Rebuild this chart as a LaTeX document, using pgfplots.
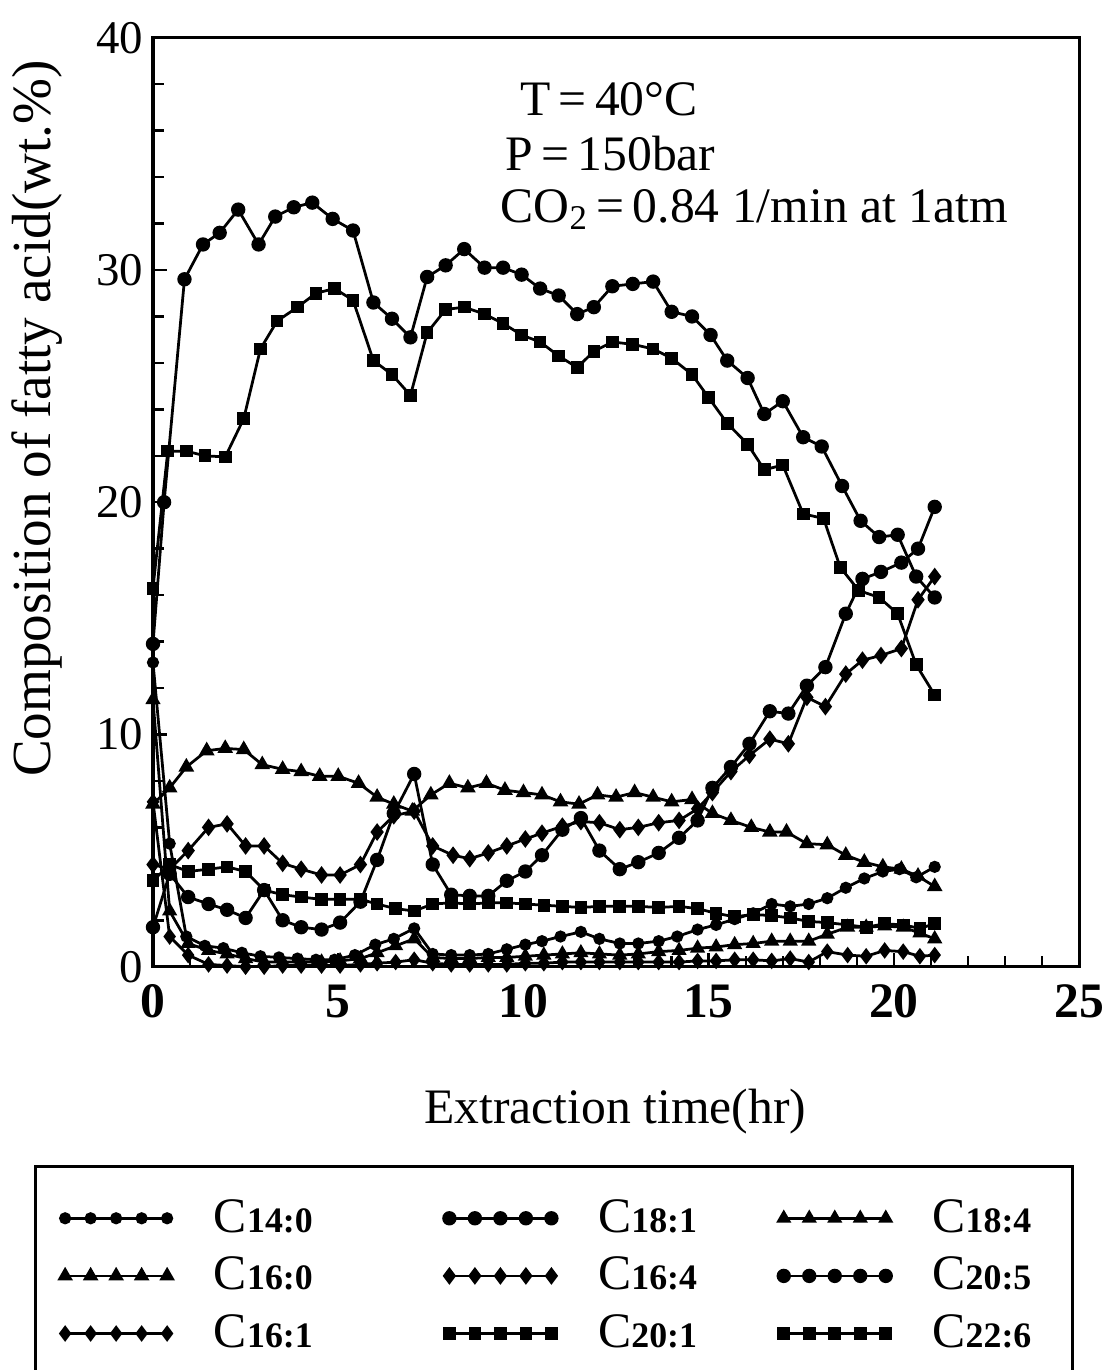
\documentclass[border=0pt]{standalone}
\usepackage{fontspec}
\setmainfont{Liberation Serif}
\usepackage{pgfplots}
\pgfplotsset{compat=1.18}
\newcommand{\lgt}[2]{\makebox[#1][l]{C{\fontsize{13}{13}\selectfont\bfseries #2}}}
\begin{document}
\begin{tikzpicture}
\begin{axis}[
  scale only axis, width=336pt, height=337pt,
  xmin=0, xmax=25, ymin=0, ymax=40,
  xtick={0,5,...,25}, ytick={0,10,...,40},
  minor x tick num=4, minor y tick num=4,
  tick align=inside, xtick pos=bottom, ytick pos=left,
  major tick length=5pt, minor tick length=4pt,
  axis line style={line width=1.1pt},
  every tick/.style={black, line width=0.9pt},
  /pgf/number format/assume math mode=true,
  xticklabel style={font=\fontsize{18}{18}\selectfont\bfseries, yshift=-3pt},
  yticklabel style={font=\fontsize{17}{17}\selectfont},
  xlabel={Extraction time(hr)},
  ylabel={Composition of fatty acid(wt.\%)},
  xlabel style={font=\fontsize{18}{18}\selectfont, at={(axis description cs:0.499,-0.156)}, anchor=center},
  ylabel style={font=\fontsize{20}{20}\selectfont, at={(axis description cs:-0.1253,0.59)}, anchor=center},
  legend columns=3,
  legend cell align=left,
  legend style={at={(axis description cs:0.433,-0.2134)}, anchor=north, draw=black, line width=1.1pt,
    font=\fontsize{18}{18}\selectfont, inner xsep=8.9pt, inner ysep=11.8pt, row sep=6.9pt, column sep=0pt,
    nodes={inner xsep=6pt, inner ysep=0pt, text height=12pt, text depth=2pt}},
  legend image code/.code={\draw[#1, line width=1pt] plot coordinates {(0pt,0pt)(9.25pt,0pt)(18.5pt,0pt)(27.75pt,0pt)(37pt,0pt)}; \path (47.5pt,0pt);},
  every axis plot/.append style={black, line width=1pt, mark options={solid, fill=black}},
]
% D  C14:0
\addplot[mark=*, mark size=1.7pt] coordinates {(0,13.1)(0.45,5.3)(0.9,1.3)(1.4,0.9)(1.9,0.8)(2.4,0.6)(2.9,0.45)(3.4,0.4)(3.9,0.35)(4.4,0.3)(4.9,0.3)(5.45,0.5)(6.0,0.95)(6.5,1.2)(7.05,1.65)(7.55,0.55)(8.05,0.5)(8.55,0.5)(9.05,0.55)(9.55,0.75)(10.05,0.95)(10.5,1.1)(11.0,1.3)(11.55,1.5)(12.05,1.2)(12.6,1.0)(13.1,1.0)(13.65,1.1)(14.15,1.3)(14.7,1.6)(15.2,1.8)(15.7,2.05)(16.2,2.3)(16.7,2.7)(17.2,2.6)(17.7,2.7)(18.2,2.95)(18.7,3.4)(19.2,3.8)(19.7,4.1)(20.15,4.2)(20.6,3.85)(21.1,4.3)};
\addlegendentry{\lgt{77.3pt}{14:0}}
% A  C18:1
\addplot[mark=*, mark size=2.1pt] coordinates {(0,13.9)(0.3,20.0)(0.85,29.6)(1.35,31.1)(1.8,31.6)(2.3,32.6)(2.85,31.1)(3.3,32.3)(3.8,32.7)(4.3,32.9)(4.85,32.2)(5.4,31.7)(5.95,28.6)(6.45,27.9)(6.95,27.1)(7.4,29.7)(7.9,30.2)(8.4,30.9)(8.95,30.1)(9.45,30.1)(9.95,29.8)(10.45,29.2)(10.95,28.9)(11.45,28.1)(11.9,28.4)(12.4,29.3)(12.95,29.4)(13.5,29.5)(14.0,28.2)(14.55,28.0)(15.05,27.2)(15.5,26.1)(16.05,25.35)(16.5,23.8)(17.0,24.35)(17.55,22.8)(18.05,22.4)(18.6,20.7)(19.1,19.2)(19.6,18.5)(20.1,18.6)(20.6,16.8)(21.1,15.9)};
\addlegendentry{\lgt{59.2pt}{18:1}}
% F  C18:4
\addplot[mark=triangle*, mark size=2.2pt] coordinates {(0,11.5)(0.45,2.4)(0.95,1.0)(1.5,0.7)(2.0,0.55)(2.5,0.35)(3.0,0.2)(3.5,0.2)(4.0,0.2)(4.55,0.2)(5.05,0.25)(5.6,0.35)(6.05,0.6)(6.55,0.9)(7.05,1.2)(7.55,0.4)(8.05,0.35)(8.55,0.35)(9.05,0.4)(9.55,0.4)(10.05,0.45)(10.55,0.5)(11.05,0.55)(11.55,0.6)(12.05,0.55)(12.6,0.5)(13.1,0.55)(13.65,0.65)(14.2,0.7)(14.7,0.8)(15.2,0.85)(15.7,0.95)(16.2,1.0)(16.7,1.1)(17.2,1.1)(17.7,1.1)(18.2,1.4)(18.75,1.7)(19.25,1.7)(19.75,1.75)(20.25,1.7)(20.7,1.45)(21.1,1.2)};
\addlegendentry{\lgt{36pt}{18:4}}
% C  C16:0
\addplot[mark=triangle*, mark size=2.3pt] coordinates {(0,7.0)(0.45,7.7)(0.9,8.6)(1.45,9.3)(1.95,9.4)(2.45,9.35)(2.95,8.7)(3.5,8.5)(4.0,8.4)(4.5,8.2)(5.0,8.2)(5.55,7.9)(6.05,7.3)(6.5,7.0)(7.0,6.7)(7.5,7.4)(8.0,7.9)(8.5,7.7)(9.0,7.9)(9.5,7.6)(10.0,7.5)(10.5,7.4)(11.0,7.1)(11.5,7.0)(12.0,7.4)(12.5,7.3)(13.0,7.5)(13.5,7.3)(14.0,7.1)(14.55,7.2)(15.1,6.6)(15.6,6.3)(16.15,6.0)(16.65,5.8)(17.1,5.8)(17.65,5.3)(18.2,5.25)(18.7,4.8)(19.2,4.5)(19.7,4.3)(20.2,4.2)(20.65,3.9)(21.1,3.45)};
\addlegendentry{\lgt{77.3pt}{16:0}}
% P  C16:4
\addplot[mark=diamond*, mark size=2.4pt] coordinates {(0,4.4)(0.45,4.2)(0.95,5.0)(1.5,6.0)(2.0,6.15)(2.5,5.2)(3.0,5.2)(3.5,4.45)(4.0,4.2)(4.55,3.95)(5.05,3.95)(5.6,4.4)(6.05,5.8)(6.5,6.5)(7.05,6.7)(7.55,5.2)(8.1,4.8)(8.55,4.65)(9.05,4.9)(9.55,5.2)(10.05,5.5)(10.5,5.75)(11.05,6.05)(11.55,6.25)(12.05,6.2)(12.6,5.9)(13.1,6.0)(13.65,6.2)(14.2,6.3)(14.7,6.8)(15.1,7.5)(15.6,8.4)(16.1,9.1)(16.65,9.8)(17.15,9.6)(17.65,11.6)(18.15,11.2)(18.7,12.6)(19.15,13.2)(19.65,13.4)(20.2,13.7)(20.65,15.8)(21.1,16.8)};
\addlegendentry{\lgt{59.2pt}{16:4}}
% Q  C20:5
\addplot[mark=*, mark size=2.1pt] coordinates {(0,1.7)(0.45,4.0)(0.95,3.0)(1.5,2.7)(2.0,2.45)(2.5,2.1)(3.0,3.3)(3.5,2.0)(4.0,1.7)(4.55,1.6)(5.05,1.9)(5.6,2.8)(6.05,4.6)(6.5,6.6)(7.05,8.3)(7.55,4.4)(8.05,3.1)(8.55,3.05)(9.05,3.05)(9.55,3.7)(10.05,4.1)(10.5,4.8)(11.05,5.9)(11.55,6.4)(12.05,5.0)(12.6,4.2)(13.1,4.5)(13.65,4.9)(14.2,5.55)(14.7,6.3)(15.1,7.7)(15.6,8.6)(16.1,9.6)(16.65,11.0)(17.15,10.9)(17.65,12.1)(18.15,12.9)(18.7,15.2)(19.15,16.7)(19.65,17.0)(20.2,17.4)(20.65,18.0)(21.1,19.8)};
\addlegendentry{\lgt{36pt}{20:5}}
% G  C16:1
\addplot[mark=diamond*, mark size=2.2pt] coordinates {(0,7.1)(0.45,1.3)(0.95,0.5)(1.5,0.1)(2.0,0.05)(2.5,0.0)(3.0,0.0)(3.5,0.05)(4.0,0.05)(4.55,0.05)(5.05,0.05)(5.6,0.1)(6.05,0.15)(6.55,0.2)(7.05,0.3)(7.55,0.15)(8.05,0.1)(8.55,0.1)(9.05,0.1)(9.55,0.1)(10.05,0.15)(10.55,0.15)(11.05,0.2)(11.55,0.2)(12.05,0.2)(12.6,0.2)(13.1,0.2)(13.65,0.2)(14.2,0.2)(14.7,0.25)(15.2,0.25)(15.7,0.3)(16.2,0.3)(16.7,0.25)(17.2,0.35)(17.7,0.2)(18.2,0.65)(18.75,0.5)(19.25,0.45)(19.75,0.7)(20.25,0.65)(20.7,0.45)(21.1,0.5)};
\addlegendentry{\lgt{77.3pt}{16:1}}
% B  C20:1
\addplot[mark=square*, mark size=1.8pt] coordinates {(0,16.3)(0.4,22.2)(0.9,22.2)(1.4,22.0)(1.95,21.95)(2.45,23.6)(2.9,26.6)(3.35,27.8)(3.9,28.4)(4.4,29.0)(4.9,29.2)(5.4,28.7)(5.95,26.1)(6.45,25.5)(6.95,24.6)(7.4,27.3)(7.9,28.3)(8.4,28.4)(8.95,28.1)(9.45,27.7)(9.95,27.2)(10.45,26.9)(10.95,26.3)(11.45,25.8)(11.9,26.5)(12.4,26.9)(12.95,26.8)(13.5,26.6)(14.0,26.2)(14.55,25.5)(15.0,24.5)(15.5,23.4)(16.05,22.5)(16.5,21.4)(17.0,21.6)(17.55,19.5)(18.1,19.3)(18.55,17.2)(19.05,16.2)(19.6,15.9)(20.1,15.2)(20.6,13.0)(21.1,11.7)};
\addlegendentry{\lgt{59.2pt}{20:1}}
% E  C22:6
\addplot[mark=square*, mark size=1.8pt] coordinates {(0,3.7)(0.45,4.4)(0.95,4.1)(1.5,4.2)(2.0,4.3)(2.5,4.1)(3.0,3.3)(3.5,3.1)(4.0,3.0)(4.55,2.9)(5.05,2.9)(5.6,2.9)(6.05,2.7)(6.55,2.5)(7.05,2.4)(7.55,2.7)(8.05,2.75)(8.55,2.7)(9.05,2.75)(9.55,2.75)(10.05,2.7)(10.55,2.65)(11.05,2.6)(11.55,2.55)(12.05,2.6)(12.6,2.6)(13.1,2.6)(13.65,2.55)(14.2,2.6)(14.7,2.5)(15.2,2.3)(15.7,2.15)(16.2,2.25)(16.7,2.2)(17.2,2.1)(17.7,1.95)(18.2,1.9)(18.75,1.8)(19.25,1.7)(19.75,1.85)(20.25,1.8)(20.7,1.65)(21.1,1.85)};
\addlegendentry{\lgt{36pt}{22:6}}
\node[anchor=base west, inner sep=0pt, font=\fontsize{18}{18}\selectfont] at (axis cs:9.9,36.64) {T\,=\,40°C};
\node[anchor=base west, inner sep=0pt, font=\fontsize{18}{18}\selectfont] at (axis cs:9.5,34.27) {P\,=\,150bar};
\node[anchor=base west, inner sep=0pt, font=\fontsize{18}{18}\selectfont] at (axis cs:9.37,32.03) {CO\textsubscript{2}\,=\,0.84 1/min at 1atm};
\end{axis}
\pgfresetboundingbox
\path[use as bounding box] (-55.5pt,-146.3pt) rectangle (344.5pt,350.7pt);
\end{tikzpicture}
\end{document}
